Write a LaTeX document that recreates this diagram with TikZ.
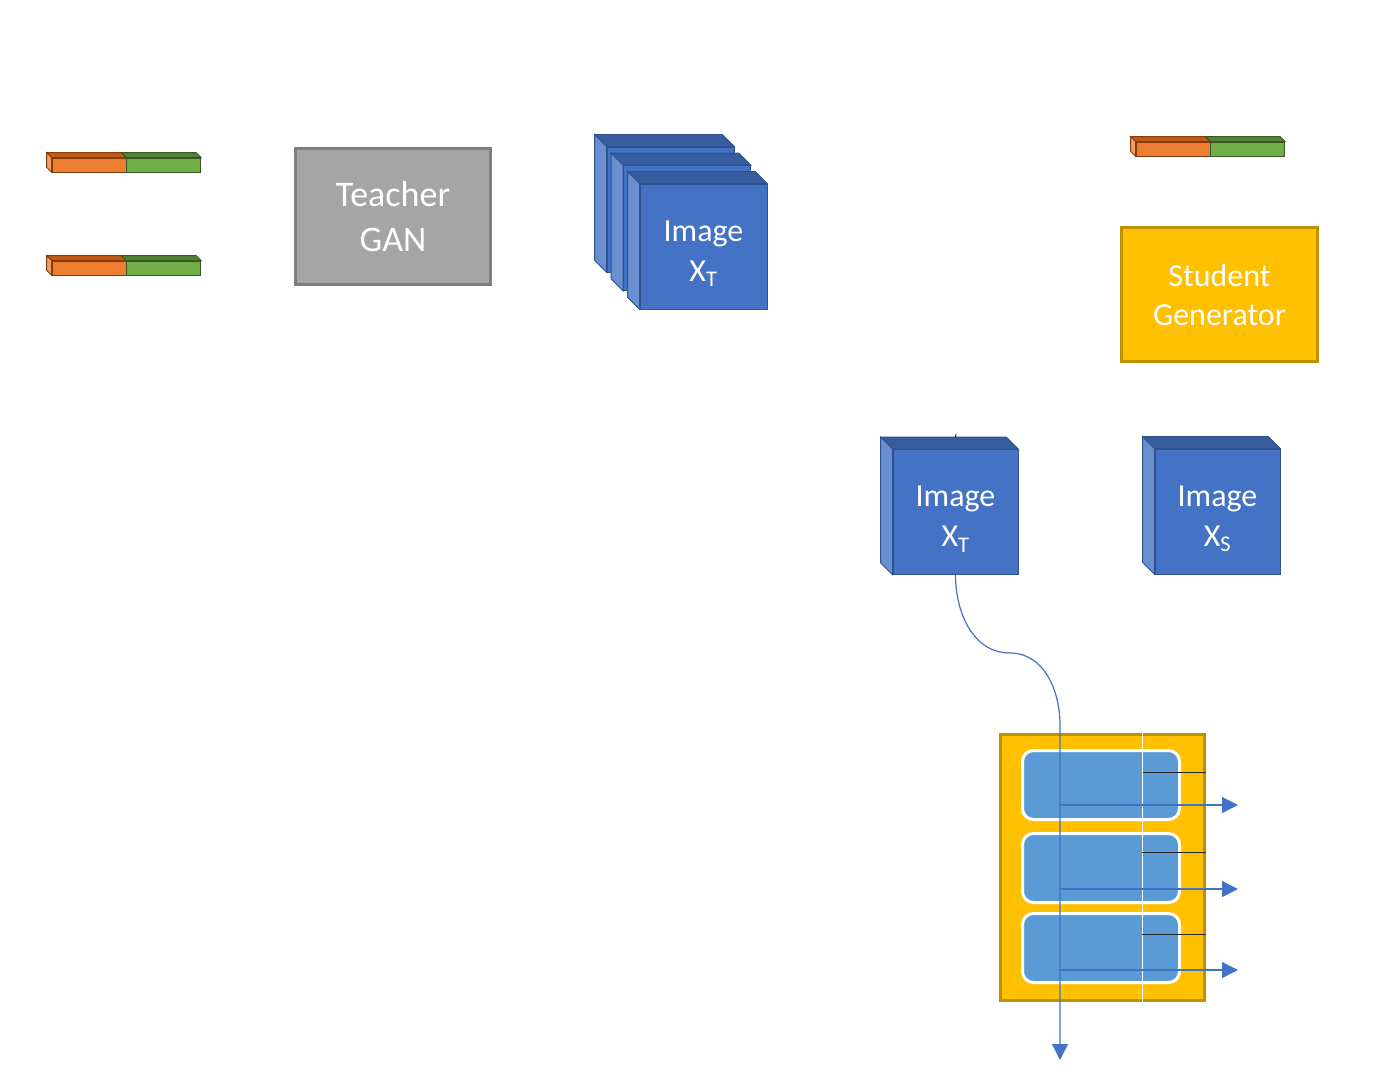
\documentclass[tikz,border=0pt]{standalone}
\usepackage{fontspec}
\setmainfont{Carlito}
\usetikzlibrary{positioning, calc, arrows.meta}

\definecolor{cubefront}{HTML}{4472C4}
\definecolor{cubetop}{HTML}{375D9F}
\definecolor{cubeside}{HTML}{6A8FD1}
\definecolor{cubeline}{HTML}{2F528F}
\definecolor{cellblue}{HTML}{5B9BD5}
\definecolor{gold}{HTML}{FFC000}
\definecolor{golddark}{HTML}{BF9000}
\definecolor{gangray}{HTML}{A5A5A5}
\definecolor{gangrayline}{HTML}{7F7F7F}
\definecolor{zorange}{HTML}{ED7D31}
\definecolor{zorangetop}{HTML}{C55A11}
\definecolor{zorangeline}{HTML}{843C0C}
\definecolor{zgreen}{HTML}{70AD47}
\definecolor{zgreentop}{HTML}{548235}
\definecolor{zgreenline}{HTML}{385723}

\tikzset{
    imgface/.style={draw=cubeline, fill=cubefront, line width=0.8pt, text=white, align=center,
        minimum width=125pt, minimum height=125pt, inner sep=0pt, text height=74pt, text depth=5pt,
        font=\fontsize{32}{40}\selectfont},
    netbox/.style={line width=3pt, text=white, align=center, inner sep=0pt},
    zpart/.style={line width=0.8pt, minimum width=74pt, minimum height=14pt, inner sep=0pt},
    cell/.style={draw=white, fill=cellblue, line width=3pt, rounded corners=11pt,
        minimum width=157pt, minimum height=69pt},
    flow/.style={draw=cubefront, line width=1.2pt},
    flowtip/.style={-{Triangle[length=16pt, width=16pt]}},
}

% depth faces of a cube, drawn up and to the left of its front face
\newcommand{\cubefaces}[1]{%
    \filldraw[fill=cubetop, draw=cubeline, line width=0.8pt] (#1.north west) -- ++(-12,-12)
        -- ($(#1.north east)+(-12,-12)$) -- (#1.north east) -- cycle;
    \filldraw[fill=cubeside, draw=cubeline, line width=0.8pt] (#1.north west) -- ++(-12,-12)
        -- ($(#1.south west)+(-12,-12)$) -- (#1.south west) -- cycle;
}
% depth faces of a latent vector bar
\newcommand{\barfaces}[2]{%
    \filldraw[fill=zorangetop, draw=zorangeline, line width=0.8pt] (#1.north west) -- ++(-5,-5)
        -- ($(#1.north east)+(-5,-5)$) -- (#1.north east) -- cycle;
    \filldraw[fill=zgreentop, draw=zgreenline, line width=0.8pt] (#2.north west) -- ++(-5,-5)
        -- ($(#2.north east)+(-5,-5)$) -- (#2.north east) -- cycle;
    \filldraw[fill=zorange!75!white, draw=zorangeline, line width=0.8pt] (#1.north west) -- ++(-5,-5)
        -- ($(#1.south west)+(-5,-5)$) -- (#1.south west) -- cycle;
}

\begin{document}
\begin{tikzpicture}[x=1pt, y=-1pt]
    \useasboundingbox (0,0) rectangle (1375,1080);

    % latent vectors
    \node[zpart, draw=zorangeline, fill=zorange] (zaO) at (89,165) {};
    \node[zpart, draw=zgreenline, fill=zgreen, right=0pt of zaO] (zaG) {};
    \barfaces{zaO}{zaG}
    \node[zpart, draw=zorangeline, fill=zorange] (zbO) at (89,268) {};
    \node[zpart, draw=zgreenline, fill=zgreen, right=0pt of zbO] (zbG) {};
    \barfaces{zbO}{zbG}
    \node[zpart, draw=zorangeline, fill=zorange] (zcO) at (1173,149) {};
    \node[zpart, draw=zgreenline, fill=zgreen, right=0pt of zcO] (zcG) {};
    \barfaces{zcO}{zcG}

    % networks
    \node[netbox, draw=gangrayline, fill=gangray, minimum width=195pt, minimum height=136pt,
        font=\fontsize{36}{45}\selectfont] (teacher) at (393,216.5) {Teacher\\GAN};
    \node[netbox, draw=golddark, fill=gold, minimum width=196pt, minimum height=134pt,
        font=\fontsize{32}{39}\selectfont] (student) at (1219.5,294.5) {Student\\Generator};

    % stack of teacher images
    \node[imgface, minimum width=127pt] (stackA) at (670.5,209.5) {};
    \cubefaces{stackA}
    \node[imgface, minimum width=127pt] (stackB) at ($(stackA)+(16.5,18.5)$) {};
    \cubefaces{stackB}
    \node[imgface, minimum width=127pt] (stackC) at ($(stackB)+(16.5,18.5)$) {Image\\X\textsubscript{T}};
    \cubefaces{stackC}

    % single images
    \node[imgface] (imgT) at (955.5,512) {Image\\X\textsubscript{T}};
    \cubefaces{imgT}
    \node[imgface] (imgS) at (1217.5,511.5) {Image\\X\textsubscript{S}};
    \cubefaces{imgS}
    \coordinate (stub) at (956,434);
    \draw[line width=0.8pt] (stub) -- ($(imgT.north)+(0,-12)$);

    % feature extractor
    \node[draw=golddark, fill=gold, line width=3pt, minimum width=204pt, minimum height=266pt] (feat) at (1102.5,867.5) {};
    \node[cell] (cellA) at (1101,785) {};
    \node[cell] (cellB) at (1101,868) {};
    \node[cell] (cellC) at (1101,948) {};
    \coordinate (split) at (1142,733);
    \draw[white, line width=1pt] (feat.north -| split) -- (feat.south -| split);
    \coordinate (hA) at (1143,772);
    \coordinate (hB) at (1142,852);
    \coordinate (hC) at (1142,934);
    \draw[black!85, line width=1pt] (hA) -- (hA -| feat.east);
    \draw[black!85, line width=1pt] (hB) -- (hB -| feat.east);
    \draw[black!85, line width=1pt] (hC) -- (hC -| feat.east);

    % flow of the teacher image
    \coordinate (bend) at (1010,653);
    \coordinate (tap) at (1060,725);
    \coordinate (sink) at (1060,1060);
    \coordinate (outA) at (1238,805);
    \coordinate (outB) at (1238,889);
    \coordinate (outC) at (1238,970);
    \draw[flow, flowtip] (tap |- outA) -- (outA);
    \draw[flow, flowtip] (tap |- outB) -- (outB);
    \draw[flow, flowtip] (tap |- outC) -- (outC);
    \draw[flow, flowtip] (imgT.south) to[out=-90, in=180] (bend) to[out=0, in=90] (tap) -- (sink);
\end{tikzpicture}
\end{document}
